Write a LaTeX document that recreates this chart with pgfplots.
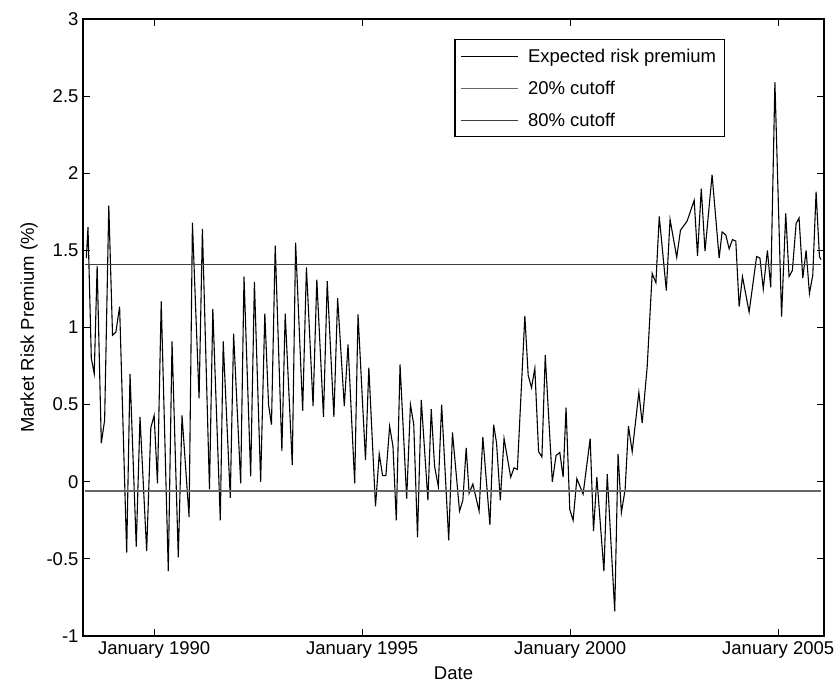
\documentclass[border=0pt]{standalone}
\usepackage{fontspec}
\setmainfont{Liberation Sans}
\usepackage{pgfplots}
\pgfplotsset{compat=1.18}

% Expected market risk premium (%), monthly, decimal-year dates
\newcommand{\riskdata}{
(1988.37,1.45) (1988.41,1.65) (1988.49,0.80) (1988.56,0.70) (1988.63,1.40)
(1988.73,0.25) (1988.81,0.40) (1988.91,1.79) (1989.00,0.95) (1989.08,0.97)
(1989.17,1.135) (1989.34,-0.46) (1989.42,0.70) (1989.57,-0.42) (1989.66,0.42)
(1989.82,-0.45) (1989.92,0.35) (1990.00,0.43) (1990.08,-0.01) (1990.17,1.17)
(1990.34,-0.58) (1990.43,0.91) (1990.58,-0.49) (1990.67,0.43) (1990.84,-0.23)
(1990.92,1.68) (1991.08,0.54) (1991.16,1.64) (1991.33,-0.05) (1991.41,1.12)
(1991.59,-0.25) (1991.66,0.91) (1991.83,-0.105) (1991.91,0.96) (1992.08,-0.01)
(1992.16,1.33) (1992.32,0.035) (1992.41,1.295) (1992.56,0.00) (1992.66,1.09)
(1992.75,0.50) (1992.82,0.37) (1992.91,1.53) (1993.07,0.20) (1993.15,1.09)
(1993.32,0.11) (1993.40,1.55) (1993.57,0.46) (1993.66,1.39) (1993.82,0.49)
(1993.91,1.31) (1994.07,0.42) (1994.16,1.30) (1994.32,0.42) (1994.41,1.19)
(1994.57,0.49) (1994.66,0.89) (1994.82,-0.01) (1994.90,1.085) (1995.08,0.14)
(1995.16,0.74) (1995.32,-0.16) (1995.41,0.18) (1995.49,0.04) (1995.57,0.04)
(1995.66,0.36) (1995.74,0.23) (1995.82,-0.25) (1995.91,0.76) (1996.07,-0.11)
(1996.16,0.50) (1996.24,0.37) (1996.33,-0.36) (1996.42,0.53) (1996.58,-0.12)
(1996.66,0.47) (1996.74,0.10) (1996.83,-0.03) (1996.91,0.50) (1997.08,-0.38)
(1997.17,0.32) (1997.34,-0.19) (1997.42,-0.12) (1997.50,0.22) (1997.57,-0.075)
(1997.66,-0.015) (1997.81,-0.19) (1997.90,0.29) (1998.07,-0.28) (1998.16,0.37)
(1998.23,0.25) (1998.32,-0.12) (1998.41,0.28) (1998.57,0.03) (1998.65,0.09)
(1998.73,0.08) (1998.91,1.075) (1998.99,0.69) (1999.07,0.61) (1999.15,0.735)
(1999.24,0.195) (1999.32,0.16) (1999.40,0.82) (1999.57,0.00) (1999.66,0.17)
(1999.75,0.19) (1999.83,0.03) (1999.90,0.48) (1999.99,-0.18) (2000.07,-0.25)
(2000.16,0.02) (2000.31,-0.08) (2000.48,0.28) (2000.56,-0.32) (2000.64,0.03)
(2000.81,-0.58) (2000.89,0.05) (2001.07,-0.84) (2001.15,0.18) (2001.23,-0.20)
(2001.32,-0.05) (2001.40,0.36) (2001.49,0.195) (2001.65,0.58) (2001.73,0.38)
(2001.85,0.745) (2001.97,1.35) (2002.06,1.29) (2002.14,1.72) (2002.31,1.24)
(2002.40,1.70) (2002.56,1.455) (2002.65,1.63) (2002.81,1.69) (2002.98,1.825)
(2003.06,1.465) (2003.15,1.90) (2003.24,1.495) (2003.41,1.99) (2003.58,1.45)
(2003.65,1.62) (2003.74,1.60) (2003.82,1.51) (2003.90,1.57) (2003.98,1.56)
(2004.06,1.135) (2004.14,1.33) (2004.30,1.10) (2004.38,1.26) (2004.48,1.46)
(2004.56,1.45) (2004.64,1.25) (2004.74,1.50) (2004.82,1.26) (2004.92,2.59)
(2005.08,1.07) (2005.18,1.74) (2005.26,1.33) (2005.34,1.37) (2005.43,1.675)
(2005.50,1.71) (2005.59,1.32) (2005.67,1.50) (2005.75,1.22) (2005.83,1.34)
(2005.91,1.88) (2005.99,1.46) (2006.03,1.44)
}

\begin{document}
\begin{tikzpicture}
\begin{axis}[
  scale only axis,
  width=741pt, height=617pt,
  xmin=1988.29, xmax=2006.1,
  ymin=-1, ymax=3,
  xtick={1990,1995,2000,2005},
  xticklabels={January 1990,January 1995,January 2000,January 2005},
  ytick={-1,-0.5,0,0.5,1,1.5,2,2.5,3},
  yticklabels={-1,-0.5,0,0.5,1,1.5,2,2.5,3},
  tick align=inside, tick pos=both,
  major tick length=7pt,
  every tick/.style={black, line width=0.9pt},
  axis line style={black, line width=1.1pt},
  ticklabel style={font=\fontsize{18.5}{22}\selectfont},
  xticklabel style={yshift=-2pt},
  yticklabel style={xshift=-1pt},
  label style={font=\fontsize{18.5}{22}\selectfont},
  xlabel={Date}, ylabel={Market Risk Premium (\%)},
  xlabel style={yshift=-2pt},
  ylabel style={yshift=2pt},
  legend cell align=left,
  legend style={at={(0.866,0.967)}, anchor=north east,
    draw=black, line width=1.1pt, inner xsep=6pt, inner ysep=7pt,
    font=\fontsize{18.5}{22}\selectfont, row sep=13pt},
  legend image code/.code={\draw[#1, line width=1pt] (0pt,0pt) -- (57pt,0pt); \path (64pt,0pt);},
]
\addplot[black, line width=1.1pt] coordinates {\riskdata};
\addlegendentry{Expected risk premium}
\addplot[black!60, line width=1.1pt] coordinates {(1988.35,-0.06) (2006.03,-0.06)};
\addlegendentry{20\% cutoff}
\addplot[black!75, line width=1.1pt] coordinates {(1988.35,1.41) (2006.03,1.41)};
\addlegendentry{80\% cutoff}
\end{axis}
\pgfresetboundingbox
\path[use as bounding box] ([shift={(-83pt,-50pt)}]current axis.south west) rectangle ([shift={(13pt,19pt)}]current axis.north east);
\end{tikzpicture}
\end{document}
